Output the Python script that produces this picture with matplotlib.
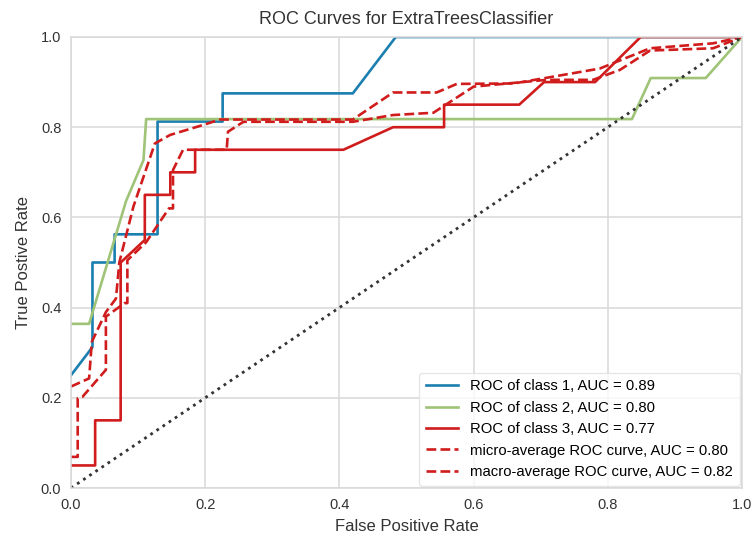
import numpy as np
import matplotlib
matplotlib.use("Agg")
import matplotlib.pyplot as plt

plt.rcParams['font.family'] = ['Liberation Sans', 'DejaVu Sans']

# ROC curves
fpr_c1 = [0, 0.032, 0.032, 0.065, 0.065, 0.129, 0.129, 0.226, 0.226, 0.42, 0.484, 1.0]
tpr_c1 = [0.25, 0.3125, 0.5, 0.5, 0.5625, 0.5625, 0.8125, 0.8125, 0.875, 0.875, 1.0, 1.0]

fpr_c2 = [0, 0.027, 0.082, 0.108, 0.112, 0.836, 0.864, 0.946, 1.0]
tpr_c2 = [0.364, 0.364, 0.636, 0.727, 0.818, 0.818, 0.909, 0.909, 1.0]

fpr_c3 = [0, 0.036, 0.036, 0.074, 0.074, 0.110, 0.110, 0.148, 0.148, 0.185, 0.185,
          0.406, 0.48, 0.556, 0.556, 0.668, 0.705, 0.781, 0.849, 1.0]
tpr_c3 = [0.05, 0.05, 0.15, 0.15, 0.5, 0.55, 0.65, 0.65, 0.70, 0.70, 0.75,
          0.75, 0.80, 0.80, 0.85, 0.85, 0.90, 0.90, 1.0, 1.0]

fpr_micro = [0, 0.027, 0.031, 0.052, 0.067, 0.072, 0.093, 0.125, 0.148, 0.197, 0.222,
             0.42, 0.48, 0.545, 0.575, 0.66, 0.788, 0.863, 0.957, 1.0]
tpr_micro = [0.225, 0.243, 0.324, 0.39, 0.42, 0.50, 0.624, 0.764, 0.783, 0.805, 0.817,
             0.817, 0.877, 0.877, 0.896, 0.897, 0.93, 0.975, 0.986, 1.0]

fpr_macro = [0, 0.01, 0.01, 0.017, 0.052, 0.052, 0.08, 0.084, 0.084, 0.112, 0.146, 0.152,
             0.152, 0.167, 0.232, 0.234, 0.257, 0.42, 0.48, 0.54, 0.60, 0.709, 0.778,
             0.818, 0.863, 0.957, 1.0]
tpr_macro = [0.069, 0.069, 0.199, 0.202, 0.262, 0.38, 0.41, 0.41, 0.505, 0.545, 0.62, 0.62,
             0.705, 0.75, 0.75, 0.79, 0.812, 0.812, 0.827, 0.832, 0.89, 0.905, 0.905,
             0.927, 0.97, 0.975, 1.0]

auc = {'c1': 0.89, 'c2': 0.80, 'c3': 0.77, 'micro': 0.80, 'macro': 0.82}

blue = '#1b7fb0'
green = '#9fc377'
red = '#d01c1c'

fig = plt.figure(figsize=(7.56, 5.35), dpi=100)
ax = fig.add_axes([71/756, 1 - 488/535, (742-71)/756, (488-37)/535])

lw = 1.9
ax.plot(fpr_c1, tpr_c1, color=blue, lw=lw, label='ROC of class 1, AUC = %.2f' % auc['c1'])
ax.plot(fpr_c2, tpr_c2, color=green, lw=lw, label='ROC of class 2, AUC = %.2f' % auc['c2'])
ax.plot(fpr_c3, tpr_c3, color=red, lw=lw, label='ROC of class 3, AUC = %.2f' % auc['c3'])
ax.plot(fpr_micro, tpr_micro, color=red, lw=lw, ls='--',
        label='micro-average ROC curve, AUC = %.2f' % auc['micro'])
ax.plot(fpr_macro, tpr_macro, color=red, lw=lw, ls='--',
        label='macro-average ROC curve, AUC = %.2f' % auc['macro'])
ax.plot([0, 1], [0, 1], color='#333333', ls=':', lw=2)

ax.set_xlim(0, 1)
ax.set_ylim(0, 1)
ax.set_xticks(np.arange(0, 1.01, 0.2))
ax.set_yticks(np.arange(0, 1.01, 0.2))
ax.grid(True, color='#d9d9d9', lw=1.1)
ax.set_axisbelow(True)
ax.tick_params(length=0, labelsize=10.5, colors='#333333', pad=7)
for s in ax.spines.values():
    s.set_color('#d9d9d9')
    s.set_linewidth(1.1)

ax.set_title('ROC Curves for ExtraTreesClassifier', fontsize=13, color='#333333', pad=9)
ax.set_xlabel('False Positive Rate', fontsize=12, color='#333333', labelpad=5)
ax.set_ylabel('True Postive Rate', fontsize=12, color='#333333', labelpad=7)

leg = ax.legend(loc='lower right', fontsize=10.7, frameon=True, borderpad=0.45,
                handlelength=2.2, labelspacing=0.5, borderaxespad=0.15)
leg.get_frame().set_edgecolor('#e0e0e0')

fig.savefig('out.png', dpi=100)
